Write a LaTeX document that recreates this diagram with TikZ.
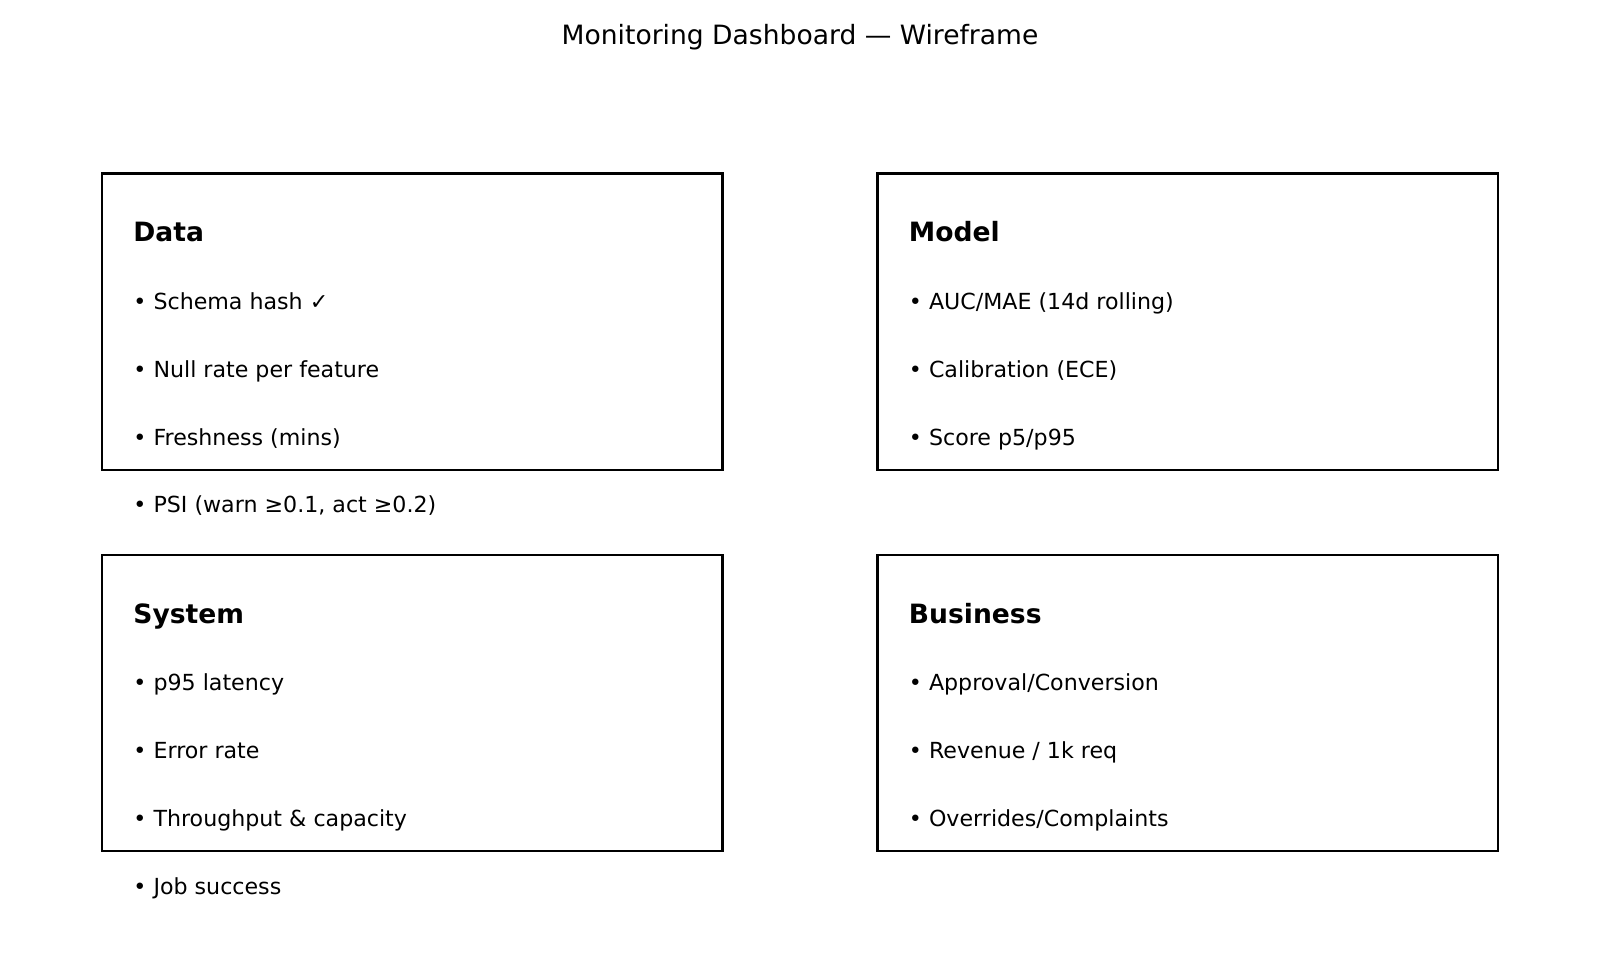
\documentclass[tikz,border=0pt]{standalone}
\usepackage{fontspec}
\setmainfont{DejaVu Sans}
\usetikzlibrary{positioning}

\begin{document}
\begin{tikzpicture}[x=0.45bp, y=-0.45bp,
    panel/.style={draw, line width=1bp, rectangle, minimum width=279.2bp, minimum height=133.4bp, inner sep=0pt},
    heading/.style={anchor=base west, inner sep=0pt, font=\fontsize{12}{14}\selectfont\bfseries},
    item/.style={anchor=base west, inner sep=0pt, font=\fontsize{10}{12}\selectfont}]
            \useasboundingbox (0,0) rectangle (1600,960);
            \node (title) at (800,44.3) [anchor=base, inner sep=0pt, font=\fontsize{12}{14}\selectfont] {Monitoring Dashboard — Wireframe};

            \node (data) at (412.2,321.75) [panel] {};
            \node (model) at (1187.7,321.75) [panel] {};
            \node (system) at (412.2,703) [panel] {};
            \node (business) at (1187.7,703) [panel] {};

            % data panel
            \node (datahead) at (133,241.7) [heading] {Data};
            \node (data1) at (133,309.2) [item] {• Schema hash ✓};
            \node (data2) at (133,377.1) [item] {• Null rate per feature};
            \node (data3) at (133,445) [item] {• Freshness (mins)};
            \node (data4) at (133,512.8) [item] {• PSI (warn ≥0.1, act ≥0.2)};

            % model panel
            \node (modelhead) at (908.5,241.7) [heading] {Model};
            \node (model1) at (908.5,309.2) [item] {• AUC/MAE (14d rolling)};
            \node (model2) at (908.5,377.1) [item] {• Calibration (ECE)};
            \node (model3) at (908.5,445) [item] {• Score p5/p95};

            % system panel
            \node (systemhead) at (133,623.3) [heading] {System};
            \node (system1) at (133,690.8) [item] {• p95 latency};
            \node (system2) at (133,758.6) [item] {• Error rate};
            \node (system3) at (133,826.4) [item] {• Throughput \& capacity};
            \node (system4) at (133,894.2) [item] {• Job success};

            % business panel
            \node (businesshead) at (908.5,623.3) [heading] {Business};
            \node (business1) at (908.5,690.8) [item] {• Approval/Conversion};
            \node (business2) at (908.5,758.6) [item] {• Revenue / 1k req};
            \node (business3) at (908.5,826.4) [item] {• Overrides/Complaints};
        \end{tikzpicture}
\end{document}
